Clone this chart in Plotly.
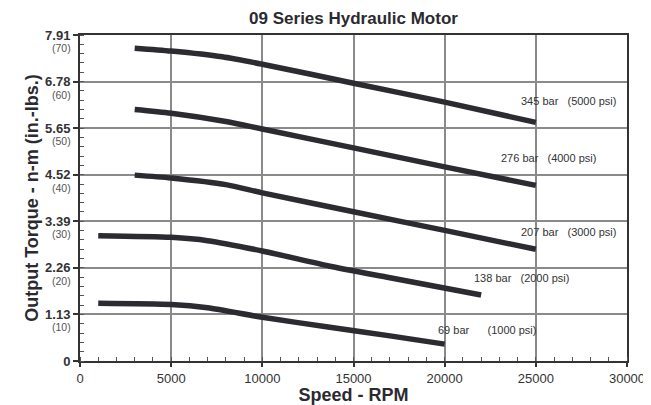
import plotly.graph_objects as go

# ---- data ----
rpm_345 = [3000, 5000, 7800, 10000, 15000, 20000, 25000]
tq_345 = [7.59, 7.52, 7.38, 7.20, 6.74, 6.28, 5.79]

rpm_276 = [3000, 5000, 8000, 10000, 15000, 20000, 25000]
tq_276 = [6.10, 6.01, 5.81, 5.63, 5.17, 4.71, 4.26]

rpm_207 = [3000, 5000, 8000, 10000, 15000, 20000, 25000]
tq_207 = [4.51, 4.44, 4.28, 4.08, 3.62, 3.17, 2.71]

rpm_138 = [1000, 5000, 7000, 10000, 13700, 17000, 22000]
tq_138 = [3.04, 3.00, 2.92, 2.67, 2.30, 2.02, 1.60]

rpm_69 = [1000, 5000, 7000, 10000, 13700, 17000, 20000]
tq_69 = [1.40, 1.37, 1.29, 1.06, 0.82, 0.61, 0.41]

series = [
    (rpm_345, tq_345), (rpm_276, tq_276), (rpm_207, tq_207),
    (rpm_138, tq_138), (rpm_69, tq_69),
]

curve_labels = [
    "345 bar\u00a0\u00a0\u00a0(5000 psi)",
    "276 bar\u00a0\u00a0\u00a0(4000 psi)",
    "207 bar\u00a0\u00a0\u00a0(3000 psi)",
    "138 bar\u00a0\u00a0\u00a0(2000 psi)",
    "69 bar\u00a0\u00a0\u00a0\u00a0\u00a0\u00a0(1000 psi)",
]
label_x = [24060, 22980, 24060, 21480, 19525]
label_y = [6.31, 4.92, 3.14, 2.01, 0.75]

y_tickvals = [0, 1.13, 2.26, 3.39, 4.52, 5.65, 6.78, 7.91]
y_ticktext = ["0", "1.13", "2.26", "3.39", "4.52", "5.65", "6.78", "7.91"]
y_sublabels = ["", "(10)", "(20)", "(30)", "(40)", "(50)", "(60)", "(70)"]

x_tickvals = [0, 5000, 10000, 15000, 20000, 25000, 30000]

FONT = "Liberation Sans, Arial, Helvetica, sans-serif"
LINE_COLOR = "#2b2b32"

# page body has an 8px default margin; size the figure to fill the rest
W, H = 643, 397
ML, MR, MT, MB = 72, 24, 27, 44

fig = go.Figure()
for xs, ys in series:
    fig.add_trace(go.Scatter(
        x=xs, y=ys, mode="lines",
        line=dict(color=LINE_COLOR, width=5.5, shape="spline", smoothing=0.7),
        showlegend=False, hoverinfo="skip",
    ))

annotations = []
for txt, lx, ly in zip(curve_labels, label_x, label_y):
    annotations.append(dict(
        x=lx, y=ly, xref="x", yref="y", text=txt, showarrow=False,
        xanchor="left", yanchor="middle",
        font=dict(family=FONT, size=11, color="#333333"),
    ))
for v, s in zip(y_tickvals, y_sublabels):
    if s:
        annotations.append(dict(
            x=0, y=v, xref="paper", yref="y", text=s, showarrow=False,
            xanchor="right", yanchor="middle", xshift=-7, yshift=-13,
            font=dict(family=FONT, size=10.5, color="#555555"),
        ))

fig.update_layout(
    width=W, height=H,
    margin=dict(l=ML, r=MR, t=MT, b=MB, pad=0, autoexpand=False),
    paper_bgcolor="white", plot_bgcolor="white",
    font=dict(family=FONT, color="#333333"),
    title=dict(
        text="<b>09 Series Hydraulic Motor</b>",
        x=(ML + (W - MR)) / 2 / W, xanchor="center",
        y=1 - 10 / H, yanchor="middle",
        font=dict(family=FONT, size=17, color="#2a2a30"),
    ),
    annotations=annotations,
)

fig.update_xaxes(
    range=[0, 30000], tickvals=x_tickvals,
    ticktext=[str(v) for v in x_tickvals],
    tickfont=dict(family=FONT, size=13, color="#333333"),
    showgrid=True, gridcolor="#8a8a8a", gridwidth=1.5,
    showline=True, linecolor="#333333", linewidth=2, mirror=True,
    ticks="outside", ticklen=4, tickwidth=1.5, tickcolor="#333333",
    minor=dict(dtick=1000, tick0=0, ticks="inside", ticklen=4,
               tickcolor="#555555", tickwidth=1, showgrid=False),
    zeroline=False, automargin=False,
    title=dict(text="<b>Speed - RPM</b>", standoff=0,
               font=dict(family=FONT, size=18, color="#2a2a30")),
)

fig.update_yaxes(
    range=[0, 7.91], tickvals=y_tickvals,
    ticktext=["<b>%s</b>" % t for t in y_ticktext],
    tickfont=dict(family=FONT, size=13, color="#333333"),
    showgrid=True, gridcolor="#8a8a8a", gridwidth=1.5,
    showline=True, linecolor="#333333", linewidth=2, mirror=True,
    ticks="outside", ticklen=5, tickwidth=1.5, tickcolor="#333333",
    minor=dict(dtick=0.226, tick0=0, ticks="inside", ticklen=4,
               tickcolor="#555555", tickwidth=1, showgrid=False),
    zeroline=False, automargin=False,
    title=dict(text="<b>Output Torque - n-m (in.-lbs.)</b>", standoff=2,
               font=dict(family=FONT, size=18, color="#2a2a30")),
)

fig.write_html("out.html")
